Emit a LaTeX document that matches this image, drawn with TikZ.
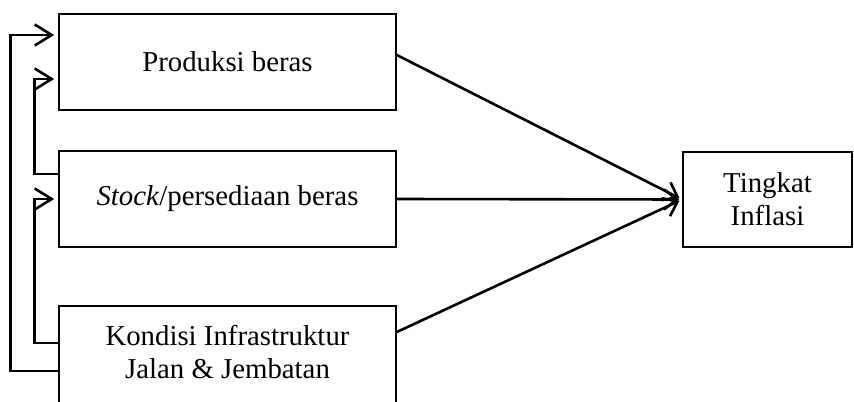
\documentclass[tikz,border=0pt]{standalone}
\usepackage{fontspec}
\setmainfont{Liberation Serif}
\usetikzlibrary{arrows.meta,calc}
\begin{document}
\begin{tikzpicture}[x=0.5pt,y=-0.5pt,
  box/.style={draw, line width=0.8pt, inner sep=0pt, align=center,
    font=\fontsize{14.4pt}{16.5pt}\selectfont},
  conn/.style={line width=1.3pt},
  larr/.style={conn, -{Straight Barb[length=8.5pt,width=10.5pt]}, shorten >=2pt},
  rarr/.style={conn, -{Straight Barb[length=6.5pt,width=10pt]}, shorten >=1.5pt}]
\useasboundingbox (0,0) rectangle (854,401);
\node[box, minimum width=168.5pt, minimum height=48pt] (b1) at (227.5,62) {Produksi beras};
\node[box, minimum width=168.5pt, minimum height=48pt] (b2) at (227.5,199) {\textit{Stock}/persediaan beras};
\node[box, minimum width=168.5pt, minimum height=52pt, text depth=6pt] (b3) at (227.5,358) {Kondisi Infrastruktur\\Jalan \& Jembatan};
\node[box, minimum width=84.5pt, minimum height=47.5pt] (t) at (767.5,199.5) {Tingkat\\Inflasi};
% right connectors
\draw[rarr] ([yshift=3.5pt]b1.east) -- (t.west);
\draw[rarr] (b2.east) -- (t.west);
\draw[rarr] ([yshift=13pt]b3.east) -- (t.west);
% left feedback connectors
\draw[larr] ([yshift=-6.5pt]b3.west) -- ++(-24pt,0) |- ([yshift=13.5pt]b1.west);
\draw[larr] ([yshift=12.5pt]b2.west) -- ++(-12pt,0) |- ([yshift=-8.5pt]b1.west);
\draw[larr] ([yshift=7.5pt]b3.west) -- ++(-12pt,0) |- (b2.west);
\end{tikzpicture}
\end{document}
